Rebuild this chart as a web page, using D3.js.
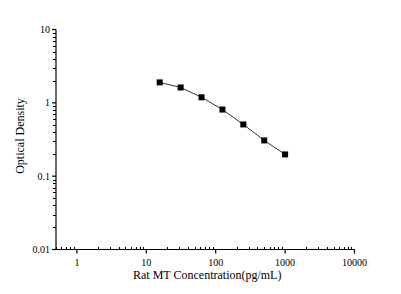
<!DOCTYPE html>
<html>
<head>
<meta charset="utf-8">
<script src="https://cdn.jsdelivr.net/npm/d3@7"></script>
<style>
  body { margin: 0; background: #fff; }
  svg { display: block; }
  text { font-family: "Liberation Serif", "Times New Roman", serif; fill: #000; }
</style>
</head>
<body>
<svg id="chart" width="401" height="294"></svg>
<script>
// standard curve values
var concentration = [15.6, 31.25, 62.5, 125, 250, 500, 1000];
var density = [1.90, 1.62, 1.19, 0.81, 0.507, 0.307, 0.198];
var xTicks = [1, 10, 100, 1000, 10000];
var yTicks = [0.01, 0.1, 1, 10];
var xTitle = "Rat MT Concentration(pg/mL)";
var yTitle = "Optical Density";

var svg = d3.select("#chart");

var plot = { left: 56, right: 354.5, top: 29.5, bottom: 249.5 };

var x = d3.scaleLog().domain([0.5, 10000]).range([plot.left, plot.right]);
var y = d3.scaleLog().domain([0.01, 10]).range([plot.bottom, plot.top]);

// minor tick values for each decade
function minors(lo, hi) {
  var out = [];
  for (var p = lo; p < hi; p *= 10) {
    for (var k = 2; k <= 9; k++) out.push(p * k);
  }
  return out;
}

// x axis
var gx = svg.append("g").attr("transform", "translate(0," + plot.bottom + ")");
gx.append("line")
  .attr("x1", plot.left).attr("x2", plot.right)
  .attr("stroke", "#000").attr("stroke-width", 1.2);
gx.selectAll("line.minor")
  .data(minors(0.1, 10000).filter(function(d) { return d >= 0.5 && d <= 10000; }))
  .enter().append("line")
  .attr("class", "minor")
  .attr("x1", function(d) { return Math.round(x(d)) + 0.5; })
  .attr("x2", function(d) { return Math.round(x(d)) + 0.5; })
  .attr("y1", 0).attr("y2", -2.5)
  .attr("stroke", "#000");
gx.selectAll("line.major")
  .data(xTicks)
  .enter().append("line")
  .attr("class", "major")
  .attr("x1", function(d) { return x(d); })
  .attr("x2", function(d) { return x(d); })
  .attr("y1", 0).attr("y2", 4)
  .attr("stroke", "#000").attr("stroke-width", 1.2);
gx.selectAll("text")
  .data(xTicks)
  .enter().append("text")
  .attr("x", function(d) { return x(d); })
  .attr("y", 16)
  .attr("text-anchor", "middle")
  .style("font-size", "10px")
  .text(function(d) { return d; });

// y axis
var gy = svg.append("g").attr("transform", "translate(" + plot.left + ",0)");
gy.append("line")
  .attr("y1", plot.top).attr("y2", plot.bottom)
  .attr("stroke", "#000").attr("stroke-width", 1.2);
gy.selectAll("line.minor")
  .data(minors(0.01, 10))
  .enter().append("line")
  .attr("class", "minor")
  .attr("y1", function(d) { return Math.round(y(d)) + 0.5; })
  .attr("y2", function(d) { return Math.round(y(d)) + 0.5; })
  .attr("x1", 0).attr("x2", -3)
  .attr("stroke", "#000");
gy.selectAll("line.major")
  .data(yTicks)
  .enter().append("line")
  .attr("class", "major")
  .attr("y1", function(d) { return y(d); })
  .attr("y2", function(d) { return y(d); })
  .attr("x1", 0).attr("x2", -4)
  .attr("stroke", "#000").attr("stroke-width", 1.2);
gy.selectAll("text")
  .data(yTicks)
  .enter().append("text")
  .attr("x", -6)
  .attr("y", function(d) { return y(d) + 3.5; })
  .attr("text-anchor", "end")
  .style("font-size", "10px")
  .text(function(d) { return d; });

// titles
svg.append("text")
  .attr("x", (plot.left + plot.right) / 2 + 2)
  .attr("y", 279)
  .attr("text-anchor", "middle")
  .style("font-size", "12px")
  .text(xTitle);

svg.append("text")
  .attr("transform", "translate(24," + 136 + ") rotate(-90)")
  .attr("text-anchor", "middle")
  .style("font-size", "12px")
  .text(yTitle);

// curve
var pts = concentration.map(function(c, i) { return { c: c, od: density[i] }; });

svg.append("path")
  .datum(pts)
  .attr("fill", "none")
  .attr("stroke", "#333")
  .attr("stroke-width", 1)
  .attr("d", d3.line()
    .x(function(d) { return x(d.c); })
    .y(function(d) { return y(d.od); }));

svg.selectAll("rect.pt")
  .data(pts)
  .enter().append("rect")
  .attr("class", "pt")
  .attr("x", function(d) { return x(d.c) - 3; })
  .attr("y", function(d) { return y(d.od) - 3; })
  .attr("width", 6)
  .attr("height", 6)
  .attr("fill", "#000");
</script>
</body>
</html>
